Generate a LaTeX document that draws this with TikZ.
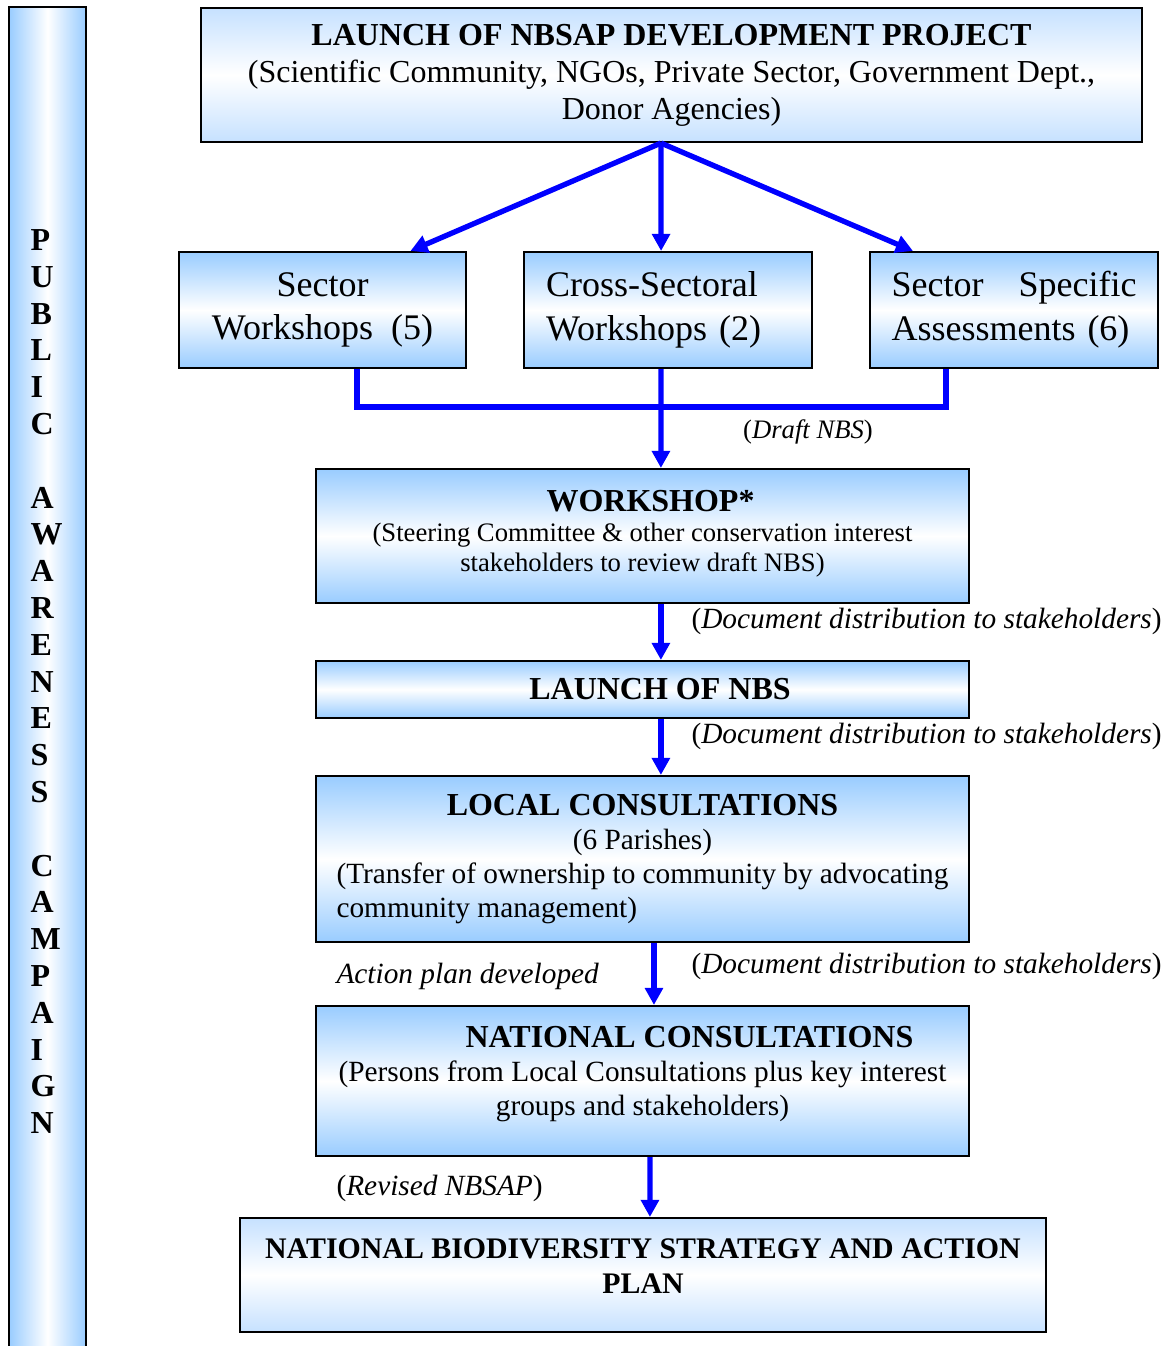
\documentclass[tikz,border=0pt]{standalone}
\usepackage{fontspec}
\setmainfont{Liberation Serif}
\usetikzlibrary{arrows.meta, calc}
\definecolor{boxblue}{RGB}{153,204,255}
\definecolor{paleblue}{RGB}{198,225,255}
\newlength{\px}
\setlength{\px}{0.375pt}

\begin{document}
\begin{tikzpicture}[x=\px, y=-\px,
  stage/.style={draw, line width=0.8pt, top color=boxblue, bottom color=boxblue, middle color=white, inner sep=0pt, align=center, font=\fontsize{12}{13.9}\selectfont},
  palestage/.style={stage, top color=paleblue, bottom color=paleblue, middle color=white},
  big/.style={font=\fontsize{13.5}{16.4}\selectfont},
  flow/.style={draw=blue, line width=2pt, -{Triangle[width=6.6pt, length=6.4pt]}},
  bar/.style={draw=blue, line width=2pt},
  note/.style={inner sep=0pt, font=\fontsize{11}{13}\selectfont},
  letter/.style={inner sep=0pt, anchor=west, font=\fontsize{12}{14}\selectfont\bfseries}]
\useasboundingbox (0,0) rectangle (1171,1346);

% Campaign bar on the left
\shade[left color=boxblue, right color=boxblue, middle color=white] (9,7) rectangle (86,1346);
\draw[line width=0.8pt] (9,1346) |- (86,7) -- (86,1346);
\foreach \ch [count=\i] in {P,U,B,L,I,C,{},A,W,A,R,E,N,E,S,S,{},C,A,M,P,A,I,G,N}
  \node[letter] (pac\i) at (30, 240+36.8*\i-36.8) {\ch};

% Stages
\node[palestage, minimum width=941*\px, minimum height=134*\px] (launch) at (671.5,75) {{\bfseries LAUNCH OF NBSAP DEVELOPMENT PROJECT}\\(Scientific Community, NGOs, Private Sector, Government Dept.,\\Donor Agencies)};
\node[stage, big, minimum width=287*\px, minimum height=116*\px] (sectorws) at (322.5,310) {Sector\\Workshops\ \ (5)};
\node[stage, big, minimum width=288*\px, minimum height=116*\px, text width=244*\px, align=left] (crossws) at (668,310) {Cross-Sectoral\\Workshops (2)};
\node[stage, big, minimum width=288*\px, minimum height=116*\px, text width=245*\px, align=left] (sectorsa) at (1014,310) {Sector\hfill Specific\\Assessments (6)};
\node[stage, minimum width=653*\px, minimum height=134*\px, text depth=4pt, font=\fontsize{10}{11.2}\selectfont] (workshop) at (642.5,536) {{\fontsize{12}{14}\selectfont\bfseries\hspace*{16\px}WORKSHOP*}\\(Steering Committee \& other conservation interest\\stakeholders to review draft NBS)};
\node[stage, minimum width=653*\px, minimum height=57*\px, font=\fontsize{12}{14}\selectfont\bfseries] (launchnbs) at (642.5,689.5) {\hspace*{35\px}LAUNCH OF NBS};
\node[stage, minimum width=653*\px, minimum height=166*\px, font=\fontsize{11}{12.75}\selectfont] (local) at (642.5,859) {{\fontsize{12}{14}\selectfont\bfseries LOCAL CONSULTATIONS}\\(6 Parishes)\\\parbox[t]{612\px}{(Transfer of ownership to community by advocating\linebreak community management)}};
\node[stage, minimum width=653*\px, minimum height=150*\px, text depth=7.6pt, font=\fontsize{11}{12.75}\selectfont] (national) at (642.5,1081) {{\fontsize{12}{14}\selectfont\bfseries\hspace*{94\px}NATIONAL CONSULTATIONS}\\(Persons from Local Consultations plus key interest\\groups and stakeholders)};
\node[palestage, minimum width=806*\px, minimum height=114*\px, text depth=6.75pt, font=\fontsize{11.2}{13.1}\selectfont\bfseries] (nbsap) at (643,1275) {NATIONAL BIODIVERSITY STRATEGY AND ACTION\\PLAN};

% Connectors
\draw[flow] ([xshift=-3.94pt]launch.south) -- ([xshift=33pt]sectorws.north);
\draw[flow] ([xshift=-3.94pt]launch.south) -- ([xshift=-2.6pt]crossws.north);
\draw[flow] ([xshift=-3.94pt]launch.south) -- ([xshift=-37.9pt]sectorsa.north);
\coordinate (hub) at (661,407);
\coordinate (swfoot) at ([xshift=12.9pt]sectorws.south);
\coordinate (safoot) at ([xshift=-25.5pt]sectorsa.south);
\draw[bar] (swfoot) |- (hub) -| (safoot);
\draw[flow] ([xshift=-2.6pt]crossws.south) -- ([xshift=6.9pt]workshop.north);
\draw[flow] ([xshift=6.9pt]workshop.south) -- ([xshift=6.9pt]launchnbs.north);
\draw[flow] ([xshift=6.9pt]launchnbs.south) -- ([xshift=6.9pt]local.north);
\draw[flow] ([xshift=4.3pt]local.south) -- ([xshift=4.3pt]national.north);
\draw[flow] ([xshift=2.8pt]national.south) -- ([xshift=2.6pt]nbsap.north);

% Labels on the flow
\node[note, font=\fontsize{10}{12}\selectfont] (draft) at (808,432) {(\textit{Draft NBS})};
\node[note, anchor=west] (dist1) at (691,621) {(\textit{Document distribution to stakeholders})};
\node[note, anchor=west] (dist2) at (691,736) {(\textit{Document distribution to stakeholders})};
\node[note, anchor=west] (dist3) at (691,966) {(\textit{Document distribution to stakeholders})};
\node[note, anchor=west] (actplan) at (336,976) {\textit{Action plan developed}};
\node[note, anchor=west] (revised) at (336,1188) {(\textit{Revised NBSAP})};
\end{tikzpicture}
\end{document}
